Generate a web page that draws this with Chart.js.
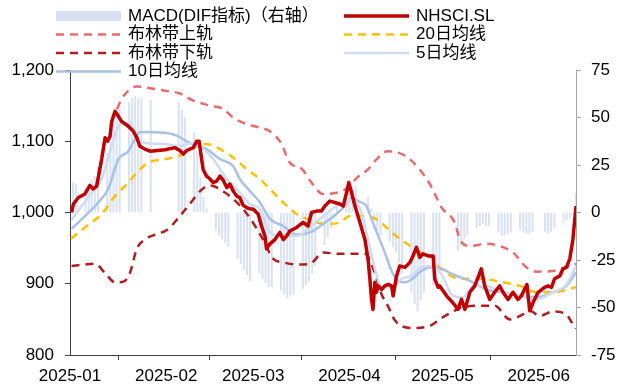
<!DOCTYPE html>
<html>
<head>
<meta charset="utf-8">
<script src="https://cdn.jsdelivr.net/npm/chart.js@4"></script>
<style>
  html, body { margin: 0; padding: 0; background: #fff; }
</style>
</head>
<body>
<canvas id="chart" width="624" height="390"></canvas>
<script>
// x positions are days counted from 2025-01-01
const monthStarts = [0, 31, 59, 90, 120, 151];
const monthLabels = ["2025-01", "2025-02", "2025-03", "2025-04", "2025-05", "2025-06"];
const lastDay = 163;

// trading days (MACD bars)
const tradeDays = [
    1, 2, 5, 6, 7, 8, 9, 12, 13, 14, 15, 16, 19, 20, 21, 22, 23, 26,
    35, 36, 37, 40, 41, 42, 43, 44, 47, 48, 49, 50, 51, 54, 55, 56, 57, 58,
    61, 62, 63, 64, 65, 68, 69, 70, 71, 72, 75, 76, 77, 78, 79, 82, 83, 84, 85, 86, 89,
    90, 91, 92, 96, 97, 98, 99, 100, 103, 104, 105, 106, 107, 110, 111, 112, 113, 114, 117, 118, 119,
    125, 126, 127, 128, 131, 132, 133, 134, 135, 138, 139, 140, 141, 142, 145, 146, 147, 148, 149,
    153, 154, 155, 156, 159, 160, 161, 162, 163
];
const macdValues = [
    16, 15, 12, 14, 17, 19, 24, 31, 42, 48, 52, 55, 58, 60, 61, 60, 60, 59,
    58, 54, 50, 42, 32, 18, 8, 2, -9, -12, -14, -16, -18, -24, -27, -30, -33, -36,
    -32, -35, -37, -39, -39, -41, -43, -45, -44, -43, -40, -38, -36, -32, -28, -17, -13, -8, -3, 3, 10,
    13, 14, 14, 8, 2, -4, -9, -12, -15, -18, -21, -26, -32, -42, -48, -52, -46, -42, -38, -35, -32,
    -20, -17, -14, -12, -8, -7, -6, -7, -7, -10, -12, -12, -11, -10, -9, -10, -11, -11, -10,
    -10, -11, -10, -8, -5, -4, -3, -1, 10
];

// NHSCI.SL
const closeDays = [
    0.5, 1.1, 2.7, 4.8, 6.4, 7.5, 8.6, 9.1, 10.2, 11.3, 12.1, 12.9, 13.4, 14.5, 15.6, 16.6, 18.8, 20.4,
    21.5, 22.5, 24.1, 25.8, 30.6, 33.8, 35.4, 36.5, 37.6, 39.7, 40.8, 41.6, 42.4, 42.9, 44.0, 45.1,
    46.1, 47.2, 48.3, 49.4, 50.5, 51.5, 52.6, 53.7, 54.7, 55.8, 56.9, 58.0, 59.0, 60.1, 60.6, 61.7,
    62.8, 63.3, 64.4, 66.0, 67.6, 68.7, 69.8, 70.8, 73.0, 75.1, 76.7, 77.8, 79.4, 81.0, 82.1, 83.7,
    85.3, 86.9, 88.0, 89.1, 89.8, 90.7, 91.8, 93.4, 95.0, 96.0, 96.6, 97.1, 97.6, 98.2, 98.7, 99.3,
    100.4, 101.4, 102.5, 103.6, 104.1, 105.2, 106.2, 107.9, 109.5, 110.5, 111.6, 112.7, 113.7, 115.4,
    117.0, 117.5, 118.6, 119.1, 121.3, 123.4, 125.0, 126.1, 127.2, 128.8, 130.4, 132.5, 133.6, 135.2,
    136.8, 138.4, 139.5, 141.1, 142.7, 144.3, 145.4, 147.2, 148.1, 149.2, 150.8, 152.9, 154.0, 155.1,
    156.1, 157.8, 158.8, 159.9, 161.0, 162.0, 163.0
];
const closeValues = [
    1000, 1012, 1021, 1026, 1038, 1033, 1037, 1049, 1075, 1105, 1100, 1107, 1127, 1142, 1135, 1128, 1121, 1114,
    1105, 1093, 1089, 1086, 1088, 1091, 1087, 1082, 1087, 1091, 1100, 1100, 1075, 1060, 1051, 1047,
    1042, 1044, 1051, 1045, 1035, 1040, 1030, 1023, 1021, 1010, 1007, 1005, 1005, 1000, 998, 981,
    967, 949, 956, 962, 972, 962, 967, 974, 979, 986, 981, 1000, 1002, 1002, 1009, 1016,
    1014, 1012, 1009, 1028, 1042, 1028, 1009, 986, 962, 935, 907, 879, 864, 902, 888, 897,
    892, 897, 899, 897, 883, 911, 925, 923, 930, 939, 951, 937, 942, 939,
    939, 907, 895, 897, 883, 873, 864, 878, 864, 888, 897, 921, 897, 878,
    888, 897, 888, 878, 888, 878, 883, 899, 862, 874, 888, 895, 897, 895,
    907, 911, 921, 923, 935, 962, 1009
];

// 5日均线
const ma5Days = [0.5, 3.8, 7.0, 10.2, 13.4, 16.1, 19.3, 21.5, 24.1, 30.6, 35.4, 39.7, 41.9, 46.1, 50.5, 54.7,
    58.0, 61.2, 64.4, 68.7, 73.0, 77.3, 81.6, 85.9, 89.1, 90.7, 93.9, 96.0, 98.2, 100.4, 103.6, 106.8,
    110.0, 113.2, 116.5, 119.7, 123.4, 126.6, 129.8, 134.2, 139.5, 144.9, 150.3, 155.6, 159.9, 163.0];
const ma5Values = [990, 1009, 1028, 1047, 1093, 1124, 1126, 1105, 1098, 1096, 1093, 1098, 1093, 1075, 1047, 1028,
    1012, 1005, 972, 967, 967, 979, 995, 1009, 1014, 1019, 1000, 962, 921, 895, 895, 907,
    911, 923, 925, 913, 883, 881, 897, 897, 888, 883, 878, 888, 899, 925];

// 10日均线
const ma10Days = [0.5, 4.8, 9.1, 12.3, 15.6, 18.8, 20.9, 22.5, 30.6, 34.4, 37.6, 40.8, 44.0, 48.3, 52.6, 54.7,
    58.0, 61.2, 64.4, 68.7, 73.0, 77.3, 81.6, 85.9, 89.1, 90.7, 92.8, 95.5, 97.1, 99.3, 101.4, 103.6,
    105.7, 107.9, 110.0, 113.2, 116.5, 119.7, 123.4, 128.8, 134.2, 139.5, 144.9, 150.3, 155.6, 159.9, 163.0];
const ma10Values = [977, 995, 1014, 1033, 1075, 1086, 1103, 1113, 1112, 1108, 1100, 1094, 1089, 1075, 1065, 1047,
    1030, 1014, 991, 981, 969, 972, 984, 998, 1012, 1021, 1016, 1009, 991, 967, 944, 918,
    904, 902, 906, 918, 923, 921, 913, 904, 892, 888, 883, 881, 888, 897, 916];

// 20日均线
const ma20Days = [0.3, 4.8, 10.2, 14.5, 18.8, 21.5, 25.2, 30.6, 35.4, 39.7, 44.0, 48.3, 52.6, 56.9, 61.2, 64.4,
    68.7, 73.0, 77.3, 82.6, 86.9, 90.1, 95.0, 99.3, 103.6, 107.9, 112.1, 116.5, 119.1, 125.6, 132.0,
    139.5, 144.9, 150.3, 155.6, 163.0];
const ma20Values = [963, 979, 998, 1023, 1042, 1056, 1070, 1075, 1080, 1091, 1096, 1089, 1077, 1061, 1047, 1033,
    1014, 998, 989, 984, 986, 995, 995, 989, 972, 958, 946, 937, 923, 907, 907,
    902, 897, 888, 888, 895];

// 布林带上轨
const upperDays = [15.1, 16.6, 18.8, 21.5, 26.3, 30.6, 35.4, 39.7, 45.1, 49.4, 52.6, 56.9, 61.2, 64.4, 67.9, 70.8,
    74.7, 77.8, 81.5, 86.3, 89.5, 92.7, 95.9, 98.2, 102.4, 105.7, 108.8, 112.7, 115.9, 119.7, 123.9,
    125.6, 128.8, 134.2, 138.4, 142.7, 147.0, 150.3, 155.6, 159.9, 163.0];
const upperValues = [1145, 1159, 1171, 1177, 1174, 1171, 1167, 1157, 1150, 1145, 1133, 1124, 1119, 1114, 1098, 1070,
    1061, 1042, 1026, 1028, 1035, 1050, 1060, 1072, 1086, 1084, 1077, 1060, 1040, 1007, 986,
    962, 953, 956, 953, 944, 923, 917, 918, 923, 928];

// 布林带下轨
const lowerDays = [0.5, 4.8, 8.0, 11.3, 14.5, 17.2, 19.3, 21.5, 24.1, 27.4, 30.6, 32.2, 35.4, 38.6, 41.9, 45.1,
    49.9, 54.7, 58.0, 61.8, 65.5, 68.7, 73.0, 77.3, 81.6, 85.9, 90.1, 95.0, 98.2, 100.4, 102.5,
    104.6, 110.0, 115.4, 119.7, 123.4, 125.6, 132.0, 136.8, 141.7, 145.9, 148.1, 151.3, 155.6, 159.9,
    161.6, 163.0];
const lowerValues = [925, 927, 928, 915, 902, 903, 915, 949, 962, 969, 974, 979, 995, 1012, 1030, 1038,
    1028, 1010, 992, 965, 935, 930, 927, 928, 944, 942, 942, 942, 915, 885, 868,
    849, 838, 840, 852, 861, 866, 869, 869, 850, 857, 862, 855, 861, 857,
    846, 837];

const legendCols = [56, 344];
const legendRows = [16, 34.5, 53, 71.5];

function toPoints(days, values) {
    return days.map((d, i) => ({ x: d, y: values[i] }));
}

const gridLegend = {
    id: "gridLegend",
    afterDraw(chart) {
        const ctx = chart.ctx;
        ctx.save();
        ctx.font = '17px "Liberation Sans", "Noto Sans CJK SC", sans-serif';
        ctx.textBaseline = "middle";
        chart.data.datasets.forEach((ds, i) => {
            const x = legendCols[i % 2];
            const y = legendRows[Math.floor(i / 2)];
            if (ds.type === "bar") {
                ctx.fillStyle = "#d6e0f2";
                ctx.fillRect(x, y - 5, 65, 10);
            } else {
                ctx.strokeStyle = ds.borderColor;
                ctx.lineWidth = ds.borderWidth;
                ctx.setLineDash(ds.borderDash || []);
                ctx.beginPath();
                ctx.moveTo(x, y);
                ctx.lineTo(x + 65, y);
                ctx.stroke();
                ctx.setLineDash([]);
            }
            ctx.fillStyle = "#000";
            ctx.fillText(ds.label, x + 72, y);
        });
        ctx.restore();
    }
};

const lineBase = { pointRadius: 0, fill: false, cubicInterpolationMode: "monotone" };

const datasets = [
    {
        type: "bar", label: "MACD(DIF指标)（右轴）", yAxisID: "y1", order: 6,
        data: toPoints(tradeDays, macdValues),
        backgroundColor: "#d9e2f3", barThickness: 1.4
    },
    {
        type: "line", label: "NHSCI.SL", yAxisID: "y", order: 0,
        data: toPoints(closeDays, closeValues),
        borderColor: "#c00000", borderWidth: 3.5, pointRadius: 0, tension: 0, borderJoinStyle: "round"
    },
    {
        type: "line", label: "布林带上轨", yAxisID: "y", order: 4, ...lineBase,
        data: toPoints(upperDays, upperValues),
        borderColor: "#ec6a6e", borderWidth: 2.5, borderDash: [8, 6]
    },
    {
        type: "line", label: "20日均线", yAxisID: "y", order: 3, ...lineBase,
        data: toPoints(ma20Days, ma20Values),
        borderColor: "#ffc000", borderWidth: 2.5, borderDash: [8, 6]
    },
    {
        type: "line", label: "布林带下轨", yAxisID: "y", order: 5, ...lineBase,
        data: toPoints(lowerDays, lowerValues),
        borderColor: "#b01e1e", borderWidth: 2.5, borderDash: [8, 6]
    },
    {
        type: "line", label: "5日均线", yAxisID: "y", order: 1, ...lineBase,
        data: toPoints(ma5Days, ma5Values),
        borderColor: "#cfdbf0", borderWidth: 2.5
    },
    {
        type: "line", label: "10日均线", yAxisID: "y", order: 2, ...lineBase,
        data: toPoints(ma10Days, ma10Values),
        borderColor: "#a8c1e6", borderWidth: 2.5
    }
];

const tickFont = { family: '"Liberation Sans", Arial, sans-serif', size: 17 };

new Chart(document.getElementById("chart").getContext("2d"), {
    type: "line",
    data: { datasets: datasets },
    options: {
        responsive: false,
        animation: false,
        devicePixelRatio: 1,
        layout: { padding: { top: 70, left: 0, right: 0, bottom: 0 } },
        plugins: { legend: { display: false }, tooltip: { enabled: false } },
        scales: {
            x: {
                type: "linear", min: 0, max: lastDay, offset: false,
                afterBuildTicks: axis => { axis.ticks = monthStarts.map(v => ({ value: v })); },
                afterFit: axis => { axis.height = 35; },
                ticks: {
                    font: tickFont, color: "#000", padding: 6, maxRotation: 0, autoSkip: false,
                    callback: v => monthLabels[monthStarts.indexOf(v)]
                },
                grid: { drawOnChartArea: false, tickLength: 5, color: "#404040" },
                border: { color: "#404040", width: 1 }
            },
            y: {
                position: "left", min: 800, max: 1200,
                afterFit: axis => { axis.width = 70; },
                ticks: { font: tickFont, color: "#000", stepSize: 100, padding: 11,
                    callback: v => v.toLocaleString("en-US") },
                grid: { drawOnChartArea: false, tickLength: 5, color: "#404040" },
                border: { color: "#404040", width: 1 }
            },
            y1: {
                position: "right", min: -75, max: 75,
                afterFit: axis => { axis.width = 48; },
                ticks: { font: tickFont, color: "#000", stepSize: 25, padding: 10 },
                grid: { drawOnChartArea: false, tickLength: 5, color: "#a6a6a6" },
                border: { color: "#a6a6a6", width: 1 }
            }
        }
    },
    plugins: [gridLegend]
});
</script>
</body>
</html>
